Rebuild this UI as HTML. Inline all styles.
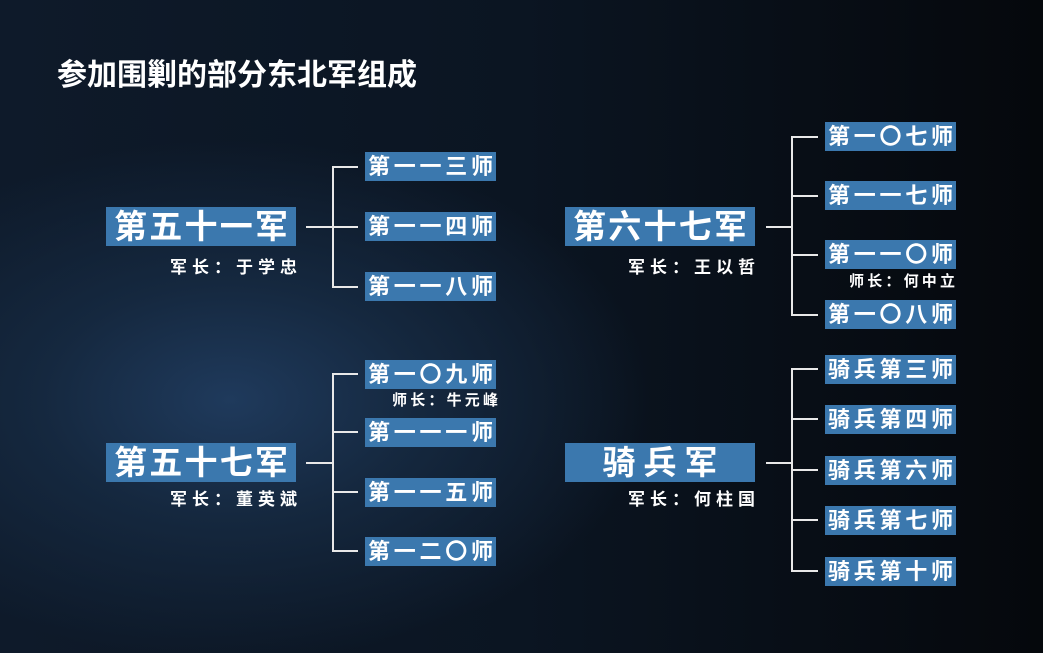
<!DOCTYPE html>
<html><head><meta charset="utf-8"><style>
body{margin:0;width:1043px;height:653px;overflow:hidden;}
#bg{position:absolute;left:0;top:0;width:1043px;height:653px;overflow:hidden;
background:radial-gradient(ellipse 420px 260px at 230px 400px,#1f3a5c 0%,#15283f 45%,rgba(10,18,30,0) 100%),linear-gradient(90deg,#0e1a2a 0%,#0b1522 50%,#05080c 100%);
font-family:"Liberation Sans","Noto Sans CJK SC",sans-serif;font-weight:bold;color:#fff;}
.t{position:absolute;left:57px;top:50px;font-size:30px;letter-spacing:0px;}
.army{position:absolute;width:190px;height:39px;background:#3b78ae;font-size:33px;line-height:39px;display:flex;justify-content:space-between;padding:0 8px;box-sizing:border-box;}
.div{position:absolute;width:131px;height:29px;background:#3b78ae;font-size:22px;line-height:29px;display:flex;justify-content:space-between;padding:0 3px;box-sizing:border-box;}
.cmd{position:absolute;font-size:17px;display:flex;justify-content:space-between;width:127px;height:20px;line-height:20px;}
.sub{position:absolute;font-size:15px;display:flex;justify-content:space-between;width:106px;height:18px;line-height:18px;}
.ln{position:absolute;background:#e8e8e8;}
</style></head><body><div id="bg">
<div class="t">参加围剿的部分东北军组成</div>

<div class="army" style="left:106px;top:207px"><span>第</span><span>五</span><span>十</span><span>一</span><span>军</span></div>
<div class="cmd" style="left:170px;top:258px"><span>军</span><span>长</span><span>：</span><span>于</span><span>学</span><span>忠</span></div>
<div class="ln" style="left:306px;top:226px;width:27px;height:2px"></div>
<div class="ln" style="left:332px;top:167px;width:2px;height:121px"></div>
<div class="ln" style="left:332px;top:166px;width:26px;height:2px"></div>
<div class="ln" style="left:332px;top:226px;width:26px;height:2px"></div>
<div class="ln" style="left:332px;top:286px;width:26px;height:2px"></div>
<div class="div" style="left:365px;top:152px"><span>第</span><span>一</span><span>一</span><span>三</span><span>师</span></div>
<div class="div" style="left:365px;top:212px"><span>第</span><span>一</span><span>一</span><span>四</span><span>师</span></div>
<div class="div" style="left:365px;top:272px"><span>第</span><span>一</span><span>一</span><span>八</span><span>师</span></div>

<div class="army" style="left:565px;top:207px"><span>第</span><span>六</span><span>十</span><span>七</span><span>军</span></div>
<div class="cmd" style="left:628px;top:258px"><span>军</span><span>长</span><span>：</span><span>王</span><span>以</span><span>哲</span></div>
<div class="ln" style="left:766px;top:226px;width:27px;height:2px"></div>
<div class="ln" style="left:791px;top:137px;width:2px;height:179px"></div>
<div class="ln" style="left:791px;top:136px;width:27px;height:2px"></div>
<div class="ln" style="left:791px;top:195px;width:27px;height:2px"></div>
<div class="ln" style="left:791px;top:254px;width:27px;height:2px"></div>
<div class="ln" style="left:791px;top:314px;width:27px;height:2px"></div>
<div class="div" style="left:825px;top:122px"><span>第</span><span>一</span><span>〇</span><span>七</span><span>师</span></div>
<div class="div" style="left:825px;top:181px"><span>第</span><span>一</span><span>一</span><span>七</span><span>师</span></div>
<div class="div" style="left:825px;top:240px"><span>第</span><span>一</span><span>一</span><span>〇</span><span>师</span></div>
<div class="sub" style="left:849px;top:273px"><span>师</span><span>长</span><span>：</span><span>何</span><span>中</span><span>立</span></div>
<div class="div" style="left:825px;top:300px"><span>第</span><span>一</span><span>〇</span><span>八</span><span>师</span></div>

<div class="army" style="left:106px;top:443px"><span>第</span><span>五</span><span>十</span><span>七</span><span>军</span></div>
<div class="cmd" style="left:170px;top:490px"><span>军</span><span>长</span><span>：</span><span>董</span><span>英</span><span>斌</span></div>
<div class="ln" style="left:306px;top:462px;width:27px;height:2px"></div>
<div class="ln" style="left:332px;top:374px;width:2px;height:178px"></div>
<div class="ln" style="left:332px;top:373px;width:26px;height:2px"></div>
<div class="ln" style="left:332px;top:431px;width:26px;height:2px"></div>
<div class="ln" style="left:332px;top:491px;width:26px;height:2px"></div>
<div class="ln" style="left:332px;top:550px;width:26px;height:2px"></div>
<div class="div" style="left:365px;top:360px"><span>第</span><span>一</span><span>〇</span><span>九</span><span>师</span></div>
<div class="sub" style="left:392px;top:392px"><span>师</span><span>长</span><span>：</span><span>牛</span><span>元</span><span>峰</span></div>
<div class="div" style="left:365px;top:418px"><span>第</span><span>一</span><span>一</span><span>一</span><span>师</span></div>
<div class="div" style="left:365px;top:478px"><span>第</span><span>一</span><span>一</span><span>五</span><span>师</span></div>
<div class="div" style="left:365px;top:537px"><span>第</span><span>一</span><span>二</span><span>〇</span><span>师</span></div>

<div class="army" style="left:565px;top:443px;justify-content:center;gap:8px"><span>骑</span><span>兵</span><span>军</span></div>
<div class="cmd" style="left:628px;top:490px"><span>军</span><span>长</span><span>：</span><span>何</span><span>柱</span><span>国</span></div>
<div class="ln" style="left:766px;top:462px;width:27px;height:2px"></div>
<div class="ln" style="left:791px;top:369px;width:2px;height:203px"></div>
<div class="ln" style="left:791px;top:368px;width:27px;height:2px"></div>
<div class="ln" style="left:791px;top:418px;width:27px;height:2px"></div>
<div class="ln" style="left:791px;top:469px;width:27px;height:2px"></div>
<div class="ln" style="left:791px;top:519px;width:27px;height:2px"></div>
<div class="ln" style="left:791px;top:570px;width:27px;height:2px"></div>
<div class="div" style="left:825px;top:355px"><span>骑</span><span>兵</span><span>第</span><span>三</span><span>师</span></div>
<div class="div" style="left:825px;top:405px"><span>骑</span><span>兵</span><span>第</span><span>四</span><span>师</span></div>
<div class="div" style="left:825px;top:456px"><span>骑</span><span>兵</span><span>第</span><span>六</span><span>师</span></div>
<div class="div" style="left:825px;top:506px"><span>骑</span><span>兵</span><span>第</span><span>七</span><span>师</span></div>
<div class="div" style="left:825px;top:557px"><span>骑</span><span>兵</span><span>第</span><span>十</span><span>师</span></div>
</div></body></html>
